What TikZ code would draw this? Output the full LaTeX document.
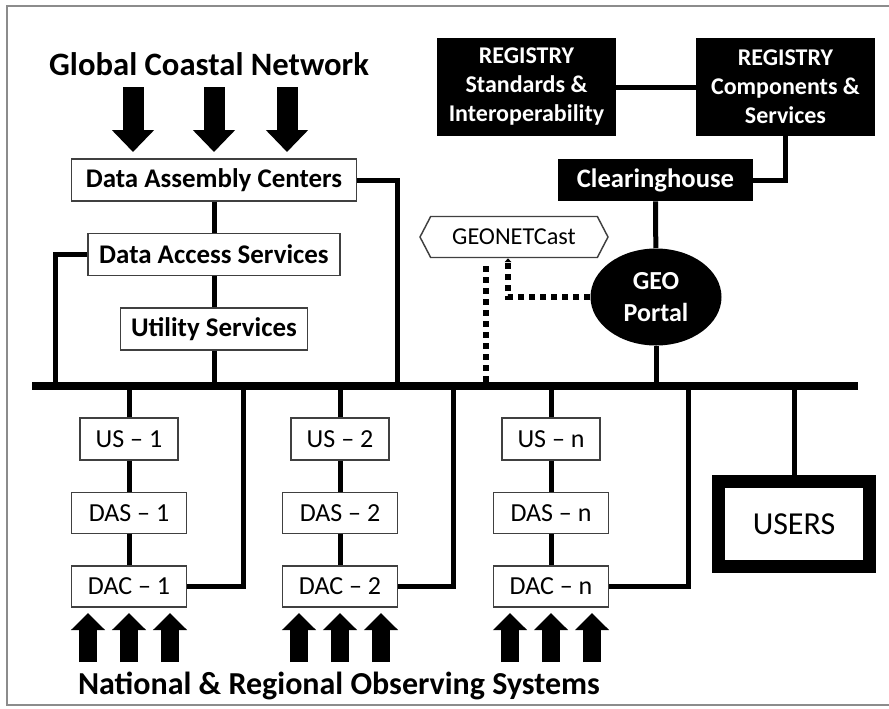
\documentclass[tikz,border=0pt]{standalone}
\usepackage{fontspec}
\setmainfont{Carlito}
\usetikzlibrary{arrows.meta, positioning, calc, shapes.geometric, shapes.symbols}

\begin{document}
\begin{tikzpicture}[
  x=0.75pt, y=-0.75pt,
  block/.style = {draw=black!75, line width=1.1pt, fill=white, inner sep=0pt, align=center},
  topbox/.style = {block, font=\bfseries\fontsize{20.2}{24}\selectfont, minimum height=31.5pt},
  colbox/.style = {block, font=\fontsize{19.5}{23}\selectfont, minimum height=30.75pt, minimum width=86.25pt},
  darkbox/.style = {fill=black, text=white, inner sep=0pt, align=center, font=\bfseries\fontsize{18}{21.75}\selectfont},
  link/.style = {line width=3.75pt},
  bus/.style = {line width=6pt},
  dotlink/.style = {line width=4.5pt, dash pattern=on 4.5pt off 3.75pt},
  downarrow/.style = {line width=15.75pt, -{Triangle[length=16.5pt, width=30.75pt]}},
  uparrow/.style = {line width=13.5pt, -{Triangle[length=12.75pt, width=24.75pt]}},
  node distance=23.25pt
]
  \useasboundingbox (0,0) rectangle (889,708);

  % Frame
  \draw[black!45, line width=1.5pt] (889,6) -- (7,6) -- (7,705) -- (889,705);

  % Global coastal network
  \node[font=\bfseries\fontsize{24.5}{28}\selectfont] (gcn) at (209,64) {Global Coastal Network};
  \foreach \x in {133,214,287}
    \draw[downarrow] (\x,87) -- (\x,152);

  \node[topbox, minimum width=213.75pt] (dacenter) at (214,180) {Data Assembly Centers};
  \node[topbox, minimum width=189pt, below=of dacenter] (daservice) {Data Access Services};
  \node[topbox, minimum width=140.25pt, below=of daservice] (utility) {Utility Services};

  % Registry and portal
  \node[darkbox, minimum width=134.25pt, minimum height=73.5pt] (regstd) at (526.5,87)
    {REGISTRY\\Standards \&\\Interoperability};
  \node[darkbox, minimum width=134.25pt, minimum height=73.5pt] (regcomp) at (785.5,87)
    {REGISTRY\\Components \&\\Services};
  \node[darkbox, minimum width=146.25pt, minimum height=31.5pt,
        font=\bfseries\fontsize{20}{24}\selectfont] (clear) at (655.5,180) {Clearinghouse};
  \node[ellipse, fill=black, text=white, minimum width=98.25pt, minimum height=72.75pt,
        inner sep=0pt, align=center, font=\bfseries\fontsize{19.5}{24}\selectfont]
        (portal) at (656,297) {GEO\\Portal};
  \node[signal, signal to=west and east, signal pointer angle=125, draw=black!75,
        line width=1.1pt, minimum width=141pt, minimum height=30.75pt, inner sep=0pt,
        font=\fontsize{18.2}{21}\selectfont] (geonet) at (514,237) {GEONETCast};

  % Bus
  \coordinate (busL) at (32,386);
  \coordinate (busR) at (858,386);
  \draw[bus] (busL) -- (busR);
  \coordinate (dasdrop) at (55,386);
  \coordinate (dacdrop) at (397,386);
  \coordinate (castdrop) at (486,386);

  \draw[link] (dacenter) -- (daservice);
  \draw[link] (daservice) -- (utility);
  \draw[link] (utility) -- (utility |- busL);
  \draw[link] (daservice.west) -| (dasdrop);
  \draw[link] (dacenter.east) -| (dacdrop);

  \draw[link] (regstd) -- (regcomp);
  \draw[link] (regcomp.south) |- (clear.east);
  \draw[link] (clear) -- (portal);
  \draw[link] (portal) -- (portal |- busL);

  % GEONETCast links (dotted)
  \draw[dotlink] (castdrop |- geonet.south) ++(0,8) -- (castdrop);
  \draw[dotlink, -{Triangle[length=3pt, width=5pt]}]
    (portal.west) -| ([xshift=-4.5pt]geonet.south);

  % National and regional systems
  \foreach \k/\cx/\rx in {1/129/243, 2/340/453, n/551/688} {
    \node[colbox, minimum width=73.5pt, minimum height=31.5pt] (us\k) at (\cx,439) {US -- \k};
    \node[colbox, below=of us\k] (das\k) {DAS -- \k};
    \node[colbox, below=of das\k] (dac\k) {DAC -- \k};
    \draw[link] (us\k) -- (us\k |- busL);
    \draw[link] (us\k) -- (das\k);
    \draw[link] (das\k) -- (dac\k);
    \draw[link] (dac\k.east) -| (\rx,386);
    \foreach \dx in {-41,0,41}
      \draw[uparrow] (\cx+\dx,662) -- (\cx+\dx,613);
  }

  % Users
  \node[draw, line width=9.75pt, minimum width=113.25pt, minimum height=63.75pt,
        inner sep=0pt, font=\fontsize{24}{28}\selectfont] (users) at (794,524) {USERS};
  \draw[link] (users.north) -- (users.north |- busL);

  \node[font=\bfseries\fontsize{24}{28}\selectfont] (nros) at (339,686)
    {National \& Regional Observing Systems};

\end{tikzpicture}
\end{document}
